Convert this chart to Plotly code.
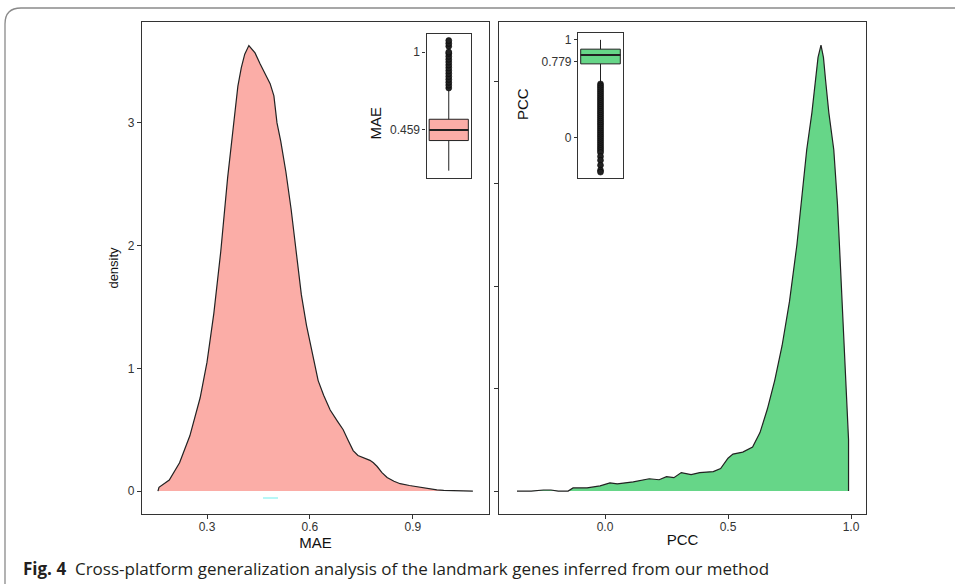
import plotly.graph_objects as go

W, H = 955, 584

# ---------------- data ----------------
mae_x = [0.157, 0.16, 0.19, 0.22, 0.25, 0.28, 0.30, 0.32, 0.34, 0.36, 0.376, 0.39, 0.40, 0.41, 0.422,
         0.44, 0.455, 0.47, 0.484, 0.495, 0.504, 0.515, 0.53, 0.545, 0.56, 0.575, 0.59, 0.61, 0.624,
         0.64, 0.659, 0.68, 0.697, 0.712, 0.726, 0.74, 0.752, 0.765, 0.775, 0.785, 0.796, 0.81, 0.825,
         0.845, 0.863, 0.89, 0.912, 0.94, 0.97, 0.99, 1.02, 1.05, 1.075]
mae_d = [0, 0.03, 0.09, 0.23, 0.45, 0.76, 1.05, 1.45, 1.95, 2.55, 2.95, 3.3, 3.45, 3.56, 3.63,
         3.57, 3.48, 3.40, 3.32, 3.22, 3.0, 2.85, 2.6, 2.3, 1.95, 1.6, 1.35, 1.08, 0.9,
         0.78, 0.66, 0.57, 0.50, 0.41, 0.33, 0.29, 0.275, 0.26, 0.25, 0.23, 0.20, 0.15, 0.11,
         0.08, 0.06, 0.045, 0.035, 0.02, 0.01, 0.005, 0.002, 0.001, 0]

pcc_x = [-0.358, -0.30, -0.25, -0.22, -0.19, -0.15, -0.13, -0.073, -0.02, 0.02, 0.05, 0.115, 0.18,
         0.22, 0.25, 0.28, 0.31, 0.35, 0.385, 0.44, 0.47, 0.50, 0.52, 0.56, 0.60, 0.63, 0.66, 0.69,
         0.72, 0.75, 0.78, 0.80, 0.82, 0.841, 0.854, 0.866, 0.878, 0.888, 0.897, 0.91, 0.93, 0.945,
         0.955, 0.965, 0.975, 0.985, 0.99, 0.99]
pcc_d = [0, 0, 0.01, 0.01, 0, 0, 0.03, 0.03, 0.05, 0.08, 0.07, 0.09, 0.12,
         0.11, 0.14, 0.13, 0.18, 0.16, 0.18, 0.19, 0.22, 0.32, 0.36, 0.38, 0.43, 0.57, 0.8, 1.08,
         1.42, 1.85, 2.4, 2.85, 3.33, 3.69, 4.0, 4.23, 4.35, 4.23, 4.0, 3.69, 3.33, 2.8,
         2.3, 1.75, 1.2, 0.75, 0.5, 0]

# box-plot summaries (inset)
mae_box = dict(q1=0.385, median=0.459, q3=0.533, lower=0.176, upper=0.74)
mae_outliers = [0.75, 0.77, 0.79, 0.81, 0.83, 0.85, 0.87, 0.89, 0.91, 0.93, 0.95, 0.97, 0.99, 1.0,
                1.04, 1.06, 1.08]
mae_label = 0.459

pcc_box = dict(q1=0.755, median=0.845, q3=0.905, lower=0.56, upper=1.0)
pcc_outliers = [0.55, 0.53, 0.51, 0.49, 0.47, 0.45, 0.43, 0.41, 0.39, 0.37, 0.35, 0.33, 0.31, 0.29,
                0.27, 0.25, 0.23, 0.21, 0.19, 0.17, 0.15, 0.13, 0.11, 0.09, 0.07, 0.05, 0.03, 0.01,
                -0.01, -0.03, -0.05, -0.07, -0.09, -0.11, -0.13, -0.15, -0.19, -0.23, -0.28, -0.33, -0.35]
pcc_label = 0.779

caption_bold = "Fig. 4"
caption_text = "Cross-platform generalization analysis of the landmark genes inferred from our method"

RED_FILL = "#FBADA7"
GREEN_FILL = "#66D688"
LINE = "#222222"
AX = "#333333"

def px(x):
    return x / W

def py(y):
    return 1 - y / H

fig = go.Figure()

# density panels
fig.add_trace(go.Scatter(x=mae_x, y=mae_d, mode="lines", fill="tozeroy", fillcolor=RED_FILL,
                         line=dict(color=LINE, width=1.2), xaxis="x", yaxis="y", showlegend=False,
                         hoverinfo="skip"))
fig.add_trace(go.Scatter(x=pcc_x, y=pcc_d, mode="lines", fill="tozeroy", fillcolor=GREEN_FILL,
                         line=dict(color=LINE, width=1.2), xaxis="x2", yaxis="y2", showlegend=False,
                         hoverinfo="skip"))

# inset boxes
def add_box(b, outliers, color, xa, ya):
    fig.add_trace(go.Box(x=[0], q1=[b["q1"]], median=[b["median"]], q3=[b["q3"]],
                         lowerfence=[b["lower"]], upperfence=[b["upper"]], width=0.88,
                         whiskerwidth=0, fillcolor=color, line=dict(color=LINE, width=1),
                         boxpoints=False, xaxis=xa, yaxis=ya, showlegend=False, hoverinfo="skip"))
    fig.add_trace(go.Scatter(x=[-0.44, 0.44], y=[b["median"], b["median"]], mode="lines",
                             line=dict(color=LINE, width=2), xaxis=xa, yaxis=ya,
                             showlegend=False, hoverinfo="skip"))
    fig.add_trace(go.Scatter(x=[0] * len(outliers), y=outliers, mode="markers",
                             marker=dict(size=6, color=LINE, line=dict(color="#000", width=0.5)),
                             xaxis=xa, yaxis=ya, showlegend=False, hoverinfo="skip"))

add_box(mae_box, mae_outliers, RED_FILL, "x3", "y3")
add_box(pcc_box, pcc_outliers, GREEN_FILL, "x4", "y4")

tickfont = dict(family="Liberation Sans, Arial, sans-serif", size=12, color="#333")
titlefont = dict(family="Liberation Sans, Arial, sans-serif", size=15, color="#111")
frame = dict(showline=True, mirror=True, linecolor=AX, linewidth=1.3, showgrid=False,
             zeroline=False, ticks="outside", ticklen=4, tickcolor=AX, tickfont=tickfont)

fig.update_layout(
    width=W, height=H, margin=dict(l=0, r=0, t=0, b=0),
    paper_bgcolor="white", plot_bgcolor="white",
    xaxis=dict(domain=[px(142), px(489)], range=[0.1105, 1.122], tickvals=[0.3, 0.6, 0.9],
               ticktext=["0.3", "0.6", "0.9"], anchor="y", ticklabelstandoff=-3,
               title=dict(text="MAE", font=titlefont, standoff=1), **frame),
    yaxis=dict(domain=[py(514), py(22)], range=[-0.187, 3.822], tickvals=[0, 1, 2, 3], anchor="x",
               title=dict(text="density", font=dict(family="Liberation Sans, Arial, sans-serif",
                                                    size=13, color="#111"), standoff=6), **frame),
    xaxis2=dict(domain=[px(499), px(866)], range=[-0.431, 1.061], tickvals=[0, 0.5, 1.0],
                ticktext=["0.0", "0.5", "1.0"], anchor="y2", ticklabelstandoff=-3,
                title=dict(text="PCC", font=titlefont, standoff=1), **frame),
    yaxis2=dict(domain=[py(514), py(22)], range=[-0.224, 4.576], tickvals=[0, 1, 2, 3, 4],
                showticklabels=False, anchor="x2", **frame),
    xaxis3=dict(domain=[px(426.5), px(471)], range=[-0.5, 0.5], showticklabels=False, ticks="",
                showline=True, mirror=True, linecolor=AX, linewidth=1.2, showgrid=False,
                zeroline=False, anchor="y3"),
    yaxis3=dict(domain=[py(178), py(34)], range=[0.125, 1.125], tickvals=[mae_label, 1],
                ticktext=[str(mae_label), "1"], anchor="x3", showline=True, mirror=True,
                linecolor=AX, linewidth=1.2, showgrid=False, zeroline=False, ticks="outside",
                ticklen=3, tickcolor=AX, tickfont=tickfont),
    xaxis4=dict(domain=[px(578), px(623)], range=[-0.5, 0.5], showticklabels=False, ticks="",
                showline=True, mirror=True, linecolor=AX, linewidth=1.2, showgrid=False,
                zeroline=False, anchor="y4"),
    yaxis4=dict(domain=[py(178), py(33)], range=[-0.41, 1.07], tickvals=[0, pcc_label, 1],
                ticktext=["0", str(pcc_label), "1"], anchor="x4", showline=True, mirror=True,
                linecolor=AX, linewidth=1.2, showgrid=False, zeroline=False, ticks="outside",
                ticklen=3, tickcolor=AX, tickfont=tickfont),
)

annos = [
    dict(text="MAE", x=px(375), y=py(105), xref="paper", yref="paper", textangle=-90,
         showarrow=False, font=titlefont),
    dict(text="PCC", x=px(522), y=py(86), xref="paper", yref="paper", textangle=-90,
         showarrow=False, font=titlefont),
    dict(text=f"<b>{caption_bold}</b>  {caption_text}", x=px(21), y=py(568), xref="paper",
         yref="paper", xanchor="left", yanchor="middle", showarrow=False,
         font=dict(family="Open Sans, Noto Sans, sans-serif", size=17, color="#231f20")),
]
fig.update_layout(annotations=annos)

fig.add_shape(type="path", xref="paper", yref="paper",
              path=f"M {px(5)},{py(584)} L {px(5)},{py(24)} Q {px(5)},{py(8)} {px(21)},{py(8)} L {px(955)},{py(8)}",
              line=dict(color="#8a8a8a", width=1.3))
fig.add_shape(type="line", xref="paper", yref="paper", x0=px(263), x1=px(278), y0=py(498), y1=py(498),
              line=dict(color="#9ff5f5", width=1.5))

fig.write_html("out.html", config={"displayModeBar": False},
               post_script="document.body.style.margin='0';document.body.style.overflow='hidden';")
